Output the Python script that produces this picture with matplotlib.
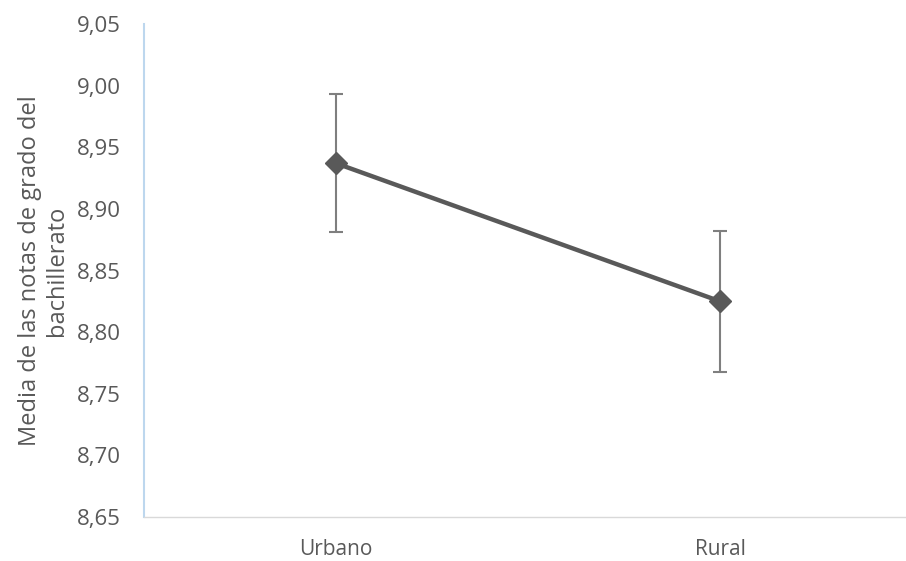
import matplotlib.pyplot as plt
import numpy as np

plt.rcParams['font.family'] = ['Open Sans', 'DejaVu Sans']

categories = ["Urbano", "Rural"]
means = [8.937, 8.825]
errors = [0.056, 0.057]
yticks = [8.65, 8.70, 8.75, 8.80, 8.85, 8.90, 8.95, 9.00, 9.05]
ylabel = "Media de las notas de grado del\nbachillerato"

fig = plt.figure(figsize=(9.06, 5.61), dpi=100)
ax = fig.add_axes([144/906, 1 - 517/561, (912 - 144)/906, (517 - 24)/561])

x = np.arange(len(categories))
ax.errorbar(x, means, yerr=errors, fmt='none', ecolor='#7f7f7f', elinewidth=1.5,
            capsize=5, capthick=1.5, zorder=2)
ax.plot(x, means, color='#595959', linewidth=3.2, marker='D', markersize=11.5, zorder=3)

ax.set_xlim(-0.5, 1.5)
ax.set_ylim(8.65, 9.05)
ax.set_xticks(x)
ax.set_xticklabels(categories, fontsize=15)
ax.set_yticks(yticks)
ax.set_yticklabels(["{:.2f}".format(v).replace(".", ",") for v in yticks], fontsize=16)
ax.tick_params(length=0, colors='#595959')
ax.tick_params(axis='x', pad=16)
ax.tick_params(axis='y', pad=17)
ax.set_ylabel(ylabel, fontsize=17, color='#595959', labelpad=5)

for s in ['top', 'right']:
    ax.spines[s].set_visible(False)
ax.spines['left'].set_color('#bdd7ee')
ax.spines['left'].set_linewidth(1.5)
ax.spines['bottom'].set_color('#d9d9d9')
ax.spines['bottom'].set_linewidth(1)

fig.savefig("out.png", dpi=100)
